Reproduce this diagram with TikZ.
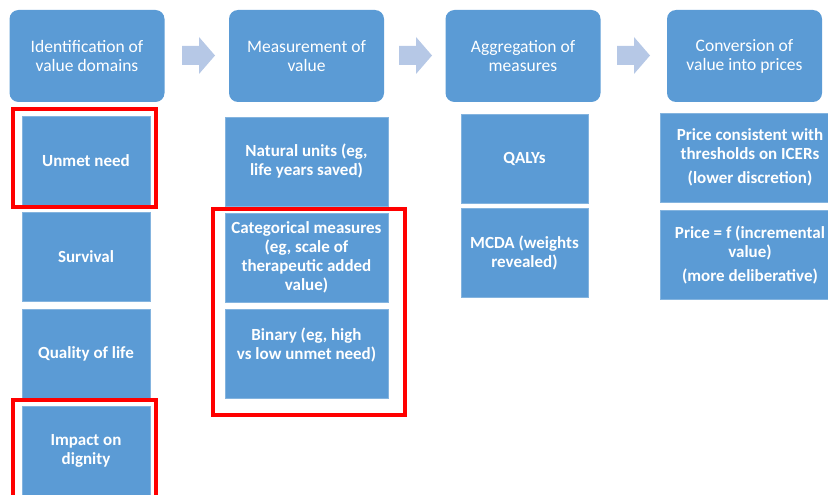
\documentclass[tikz,border=0pt]{standalone}
\usepackage{fontspec}
\setmainfont{Carlito}
\definecolor{boxblue}{RGB}{91,155,213}
\definecolor{arrowblue}{RGB}{182,200,230}
\definecolor{framered}{RGB}{255,0,0}

\begin{document}
\begin{tikzpicture}[x=1pt, y=-1pt,
  head/.style={fill=boxblue, rounded corners=9pt, text=white, align=center,
    minimum width=155pt, minimum height=92pt, inner sep=0pt,
    font=\fontsize{17.5}{19}\selectfont},
  item/.style={fill=boxblue, draw=boxblue!75!white, line width=0.6pt, text=white,
    align=center, minimum height=89pt, inner sep=0pt,
    font=\bfseries\fontsize{17}{19}\selectfont},
  redframe/.style={draw=framered, line width=4pt}]
  \useasboundingbox (0,0) rectangle (828,495);
  \clip (0,0) rectangle (828,495);

  % header row
  \node[head] (h1) at (87,56) {Identification of\\value domains};
  \node[head] (h2) at (306.5,56) {Measurement of\\value};
  \node[head] (h3) at (523,56) {Aggregation of\\measures};
  \node[head] (h4) at (744.5,56) {Conversion of\\value into prices};

  % block arrows between the headers
  \foreach \x in {182,399,617}
    \fill[arrowblue] (\x,46) -- ++(17,0) -- ++(0,-9) -- ++(16,18.5)
      -- ++(-16,18.5) -- ++(0,-9) -- ++(-17,0) -- cycle;

  % value domains
  \node[item, minimum width=128pt] (unmet) at (86,160.5) {Unmet need};
  \node[item, minimum width=128pt] (surv) at (86,257) {Survival};
  \node[item, minimum width=128pt] (qol) at (86,353.5) {Quality of life};
  \node[item, minimum width=128pt] (dign) at (86,450.5) {Impact on\\dignity};

  % measurement
  \node[item, minimum width=163pt] (nat) at (306.5,161.5) {Natural units (eg,\\life years saved)};
  \node[item, minimum width=163pt] (cat) at (306.5,257.5) {Categorical measures\\(eg, scale of\\therapeutic added\\value)};
  \node[item, minimum width=163pt] (bin) at (306.5,353.5) {Binary (eg, high\\vs low unmet need)\\\mbox{}};

  % aggregation
  \node[item, minimum width=127pt] (qaly) at (524.5,158.5) {QALYs};
  \node[item, minimum width=127pt] (mcda) at (524.5,252.5) {MCDA (weights\\revealed)};

  % conversion
  \node[item, minimum width=180pt] (icer) at (750,157.5) {Price consistent with\\thresholds on ICERs\\[5pt](lower discretion)};
  \node[item, minimum width=180pt] (delib) at (750,254.5) {Price = f (incremental\\value)\\[5pt](more deliberative)};

  % highlighted items
  \draw[redframe] (13,109) rectangle (156,207);
  \draw[redframe] (13,400) rectangle (156,510);
  \draw[redframe] (213,209) rectangle (405,415);
\end{tikzpicture}
\end{document}
